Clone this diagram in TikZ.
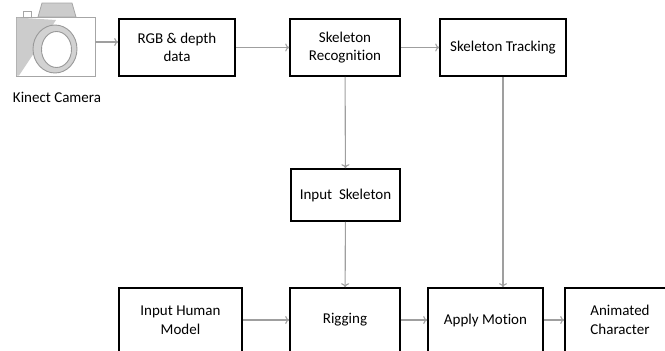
\documentclass[tikz,border=0pt]{standalone}
\usepackage{fontspec}
\setmainfont{Carlito}[Ligatures=NoCommon]
\usetikzlibrary{positioning, arrows.meta}

\begin{document}
\begin{tikzpicture}[x=1pt, y=-1pt,
	block/.style={draw, line width=1.6pt, align=center, inner sep=2pt, font=\fontsize{15}{18.5}\selectfont},
	link/.style={draw=gray!75, line width=1.1pt, -{To[length=4pt, width=8pt]}}]
	\useasboundingbox (0,0) rectangle (665,351);
	
	% camera
	\filldraw[fill=white, draw=gray!70, line width=1pt] (16,17) rectangle (95,76);
	\fill[gray!40] (16.5,17.5) -- (56,20) -- (19,75.5) -- (16.5,75.5) -- cycle;
	\filldraw[fill=gray!40, draw=gray!70, line width=0.8pt] (38,17) -- (42,3) -- (72,3) -- (76,17) -- cycle;
	\draw[gray!70, line width=0.8pt] (23,11) rectangle (31,17);
	\filldraw[fill=gray!35, draw=gray!80, line width=0.9pt, even odd rule] (55,49) ellipse [x radius=22, y radius=24] (56.5,49.5) ellipse [x radius=15, y radius=18];
	\node [font=\fontsize{15}{18.5}\selectfont] (camlabel) at (57,97) {Kinect Camera};
	\coordinate (cam) at (95,42);
	
	% top row
	\node [block, minimum width=116pt, minimum height=57pt] (rgb) at (177,47.5) {RGB \& depth\\data};
	\node [block, minimum width=110pt, minimum height=57pt] (recog) at (345,47.5) {Skeleton\\Recognition};
	\node [block, minimum width=126pt, minimum height=57pt] (track) at (503,47.5) {Skeleton Tracking};
	
	% middle
	\node [block, minimum width=109pt, minimum height=52pt] (inskel) at (345.5,195) {Input~~Skeleton};
	
	% bottom row
	\node [block, minimum width=123pt, minimum height=64pt] (human) at (180.5,320) {Input Human\\Model};
	\node [block, minimum width=110pt, minimum height=64pt] (rig) at (345,320) {Rigging};
	\node [block, minimum width=115pt, minimum height=64pt] (apply) at (485.5,320) {Apply Motion};
	\node [block, minimum width=110pt, minimum height=64pt] (anim) at (620,320) {Animated\\Character};
	
	\draw [link] (cam) -- (cam -| rgb.west);
	\draw [link] (rgb) -- (recog);
	\draw [link] (recog) -- (track);
	\draw [link] (recog) -- (inskel);
	\draw [link] (inskel) -- (rig);
	\draw [link] (track.south) -- (track.south |- apply.north);
	\draw [link] (human) -- (rig);
	\draw [link] (rig) -- (apply);
	\draw [link] (apply) -- (anim);
\end{tikzpicture}
\end{document}
